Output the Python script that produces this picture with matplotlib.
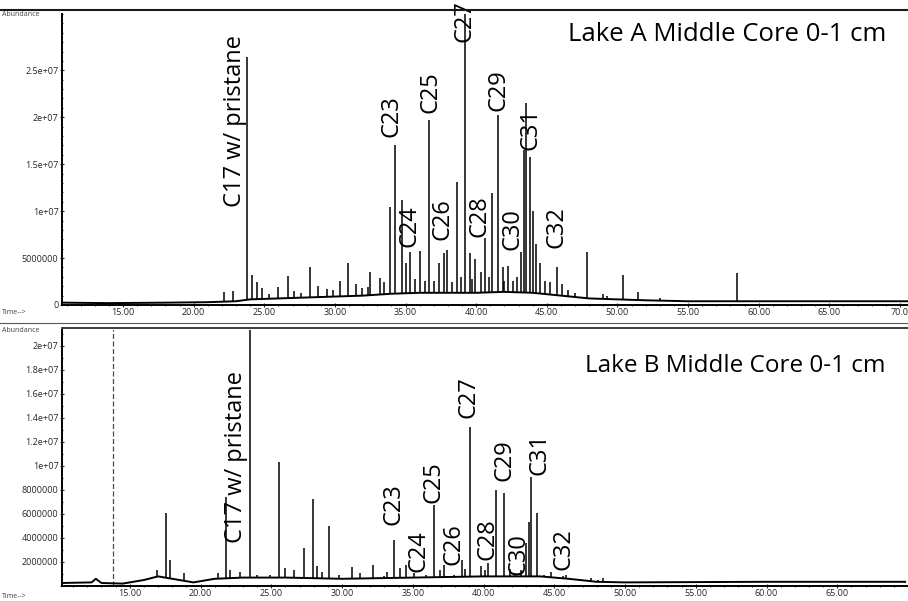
import numpy as np
import matplotlib
matplotlib.use('Agg')
import matplotlib.pyplot as plt
from matplotlib.lines import Line2D
from matplotlib.ticker import MultipleLocator

plt.rcParams['font.family'] = ['Open Sans', 'DejaVu Sans']

# ---- Lake A (top trace) ----
a_base_t = [10.7, 14, 18, 21, 23, 24, 26, 28, 30, 32, 34, 36, 38, 40, 42, 44, 46, 48, 50, 52, 55, 60, 65, 70.6]
a_base_v = [0.25e6, 0.2e6, 0.25e6, 0.3e6, 0.4e6, 0.6e6, 0.7e6, 0.8e6, 0.9e6, 1.0e6, 1.2e6, 1.3e6,
            1.3e6, 1.3e6, 1.4e6, 1.3e6, 1.0e6, 0.7e6, 0.6e6, 0.5e6, 0.4e6, 0.4e6, 0.4e6, 0.4e6]
a_peak_t = [22.15, 22.78, 23.78, 24.13, 24.5, 24.84, 25.97, 26.68, 28.23, 29.44, 30.36, 30.92,
            32.34, 32.48, 33.19, 33.9, 34.25, 34.75, 35.03, 35.31, 36.02, 36.37, 36.66, 37.36,
            37.72, 37.93, 38.28, 38.64, 38.92, 39.2, 39.56, 39.91, 40.34, 40.62, 41.12, 41.54,
            41.9, 42.25, 42.6, 42.9, 43.17, 43.38, 43.52, 43.8, 44.02, 44.23, 44.51, 44.87,
            45.71, 46.07, 46.99, 47.84, 48.97, 49.25, 50.39, 51.45, 53.0, 58.45,
            25.3, 27.1, 27.6, 28.8, 29.9, 31.5, 31.9, 33.5, 35.7, 37.0, 39.7, 40.9, 42.0, 45.2, 46.5]
a_peak_v = [1.4e6, 1.5e6, 2.64e7, 3.2e6, 2.5e6, 1.8e6, 1.9e6, 3.1e6, 4.0e6, 1.7e6, 2.6e6, 4.5e6,
            1.9e6, 3.5e6, 2.9e6, 1.04e7, 1.70e7, 1.12e7, 4.5e6, 5.6e6, 5.8e6, 2.6e6, 1.97e7, 4.5e6,
            5.5e6, 5.9e6, 2.5e6, 1.31e7, 3.0e6, 3.1e7, 5.5e6, 4.9e6, 3.5e6, 7.1e6, 1.19e7, 2.02e7,
            4.0e6, 4.2e6, 2.6e6, 3.0e6, 5.6e6, 1.65e7, 2.15e7, 1.58e7, 1.0e7, 6.5e6, 4.5e6, 2.6e6,
            4.0e6, 2.2e6, 1.3e6, 5.6e6, 1.2e6, 1.0e6, 3.2e6, 1.4e6, 0.7e6, 3.4e6,
            1.2e6, 1.5e6, 1.3e6, 2.0e6, 1.6e6, 2.2e6, 1.8e6, 2.4e6, 2.8e6, 2.6e6, 2.8e6, 3.0e6, 2.6e6, 2.4e6, 1.6e6]
a_labels = ['C17 w/ pristane', 'C23', 'C24', 'C25', 'C26', 'C27', 'C28', 'C29', 'C30', 'C31', 'C32']
a_label_t = [22.93, 34.04, 35.31, 36.8, 37.65, 39.2, 40.27, 41.6, 42.6, 43.88, 45.71]
a_label_v = [1.04e7, 1.79e7, 6.2e6, 2.05e7, 6.9e6, 2.8e7, 7.2e6, 2.07e7, 5.85e6, 1.65e7, 6.06e6]
a_yticks = [0, 5e6, 1e7, 1.5e7, 2e7, 2.5e7]
a_yticklabels = ['0', '5000000', '1e+07', '1.5e+07', '2e+07', '2.5e+07']
a_xticklabels = ['15.00', '20.00', '25.00', '30.00', '35.00', '40.00', '45.00',
                 '50.00', '55.00', '60.00', '65.00', '70.0']

# ---- Lake B (bottom trace) ----
b_base_t = [10.2, 12.3, 12.6, 13.0, 14.5, 16, 17, 18, 19.5, 21, 23, 26, 30, 35, 40, 44, 46, 48, 50, 60, 69.8]
b_base_v = [0.25e6, 0.3e6, 0.6e6, 0.25e6, 0.2e6, 0.5e6, 0.8e6, 0.6e6, 0.3e6, 0.6e6, 0.7e6, 0.7e6,
            0.6e6, 0.7e6, 0.8e6, 0.8e6, 0.6e6, 0.35e6, 0.3e6, 0.35e6, 0.35e6]
b_solvent_t = 13.8
b_solvent_v = 2.6e7
b_peak_t = [12.54, 16.9, 17.54, 17.82, 18.8, 21.83, 22.1, 23.52, 24.0, 24.9, 25.56, 26.0,
            27.32, 27.96, 28.2, 29.08, 29.8, 30.7, 32.18, 32.96, 33.66, 34.08, 34.51, 35.07,
            35.92, 36.48, 37.18, 37.89, 38.45, 39.01, 39.3, 39.79, 40.35, 40.85, 41.48, 42.25,
            42.68, 43.03, 43.24, 43.38, 43.8, 44.3, 45.63, 45.85, 47.6, 48.1, 48.45,
            21.2, 22.8, 26.6, 28.6, 31.3, 33.2, 36.9, 38.7, 40.1, 41.9, 44.8]
b_peak_v = [0.5e6, 1.33e6, 6.1e6, 2.2e6, 1.1e6, 7.4e6, 1.3e6, 2.6e7, 0.9e6, 0.9e6, 1.03e7, 1.5e6,
            3.2e6, 7.2e6, 1.7e6, 5.0e6, 0.9e6, 1.6e6, 1.75e6, 0.83e6, 3.8e6, 1.5e6, 1.75e6, 1.1e6,
            0.9e6, 6.75e6, 1.75e6, 0.9e6, 2.2e6, 1.32e7, 0.8e6, 1.7e6, 1.9e6, 8.0e6, 7.75e6, 1.1e6,
            1.3e6, 3.6e6, 5.3e6, 9.1e6, 6.1e6, 0.9e6, 0.8e6, 0.9e6, 0.7e6, 0.5e6, 0.7e6,
            1.1e6, 1.2e6, 1.3e6, 1.2e6, 1.1e6, 1.2e6, 1.3e6, 1.4e6, 1.3e6, 1.4e6, 1.2e6]
b_labels = ['C17 w/ pristane', 'C23', 'C24', 'C25', 'C26', 'C27', 'C28', 'C29', 'C30', 'C31', 'C32']
b_label_t = [22.54, 33.66, 35.42, 36.48, 37.89, 38.94, 40.28, 41.48, 42.46, 43.94, 45.63]
b_label_v = [3.6e6, 5.1e6, 1.17e6, 6.9e6, 1.75e6, 1.4e7, 2.17e6, 8.7e6, 0.9e6, 9.25e6, 1.33e6]
b_yticks = [0, 2e6, 4e6, 6e6, 8e6, 1e7, 1.2e7, 1.4e7, 1.6e7, 1.8e7, 2e7]
b_yticklabels = ['', '2000000', '4000000', '6000000', '8000000', '1e+07',
                 '1.2e+07', '1.4e+07', '1.6e+07', '1.8e+07', '2e+07']
b_xticklabels = ['15.00', '20.00', '25.00', '30.00', '35.00', '40.00', '45.00',
                 '50.00', '55.00', '60.00', '65.00', '']

xticks = [15, 20, 25, 30, 35, 40, 45, 50, 55, 60, 65, 70]


def draw_trace(ax, base_t, base_v, peak_t, peak_v):
    ax.plot(base_t, base_v, color='black', lw=1.4)
    floor = np.interp(peak_t, base_t, base_v)
    ax.vlines(peak_t, floor, peak_v, color='black', lw=1.1)


def style_axis(ax, yticks, yticklabels, xticklabels, xlim, ylim):
    ax.set_xlim(*xlim)
    ax.set_ylim(*ylim)
    for s in ['top', 'right']:
        ax.spines[s].set_visible(False)
    ax.spines['left'].set_linewidth(1.4)
    ax.spines['bottom'].set_linewidth(1.4)
    ax.set_yticks(yticks)
    ax.set_yticklabels(yticklabels)
    ax.yaxis.set_minor_locator(MultipleLocator(1e6))
    ax.set_xticks(xticks)
    ax.set_xticklabels(xticklabels)
    ax.xaxis.set_minor_locator(MultipleLocator(1))
    ax.tick_params(axis='both', which='major', labelsize=6.5, length=3, width=0.8,
                   colors='0.15', direction='inout')
    ax.tick_params(axis='both', which='minor', length=2, width=0.6, direction='inout')
    ax.tick_params(axis='x', pad=1)
    ax.tick_params(axis='y', pad=1)


def label_peaks(ax, names, ts, vs):
    for name, t, v in zip(names, ts, vs):
        ax.text(t, v, name, rotation=90, ha='center', va='bottom',
                fontsize=17, color='black', clip_on=False)


fig = plt.figure(figsize=(9.08, 6.01), dpi=100)

ax1 = fig.add_axes([62 / 908, 1 - 305 / 601, 1 - 62 / 908, (305 - 14) / 601])
draw_trace(ax1, a_base_t, a_base_v, a_peak_t, a_peak_v)
style_axis(ax1, a_yticks, a_yticklabels, a_xticklabels, (10.68, 70.57), (0, 3.1e7))
label_peaks(ax1, a_labels, a_label_t, a_label_v)
ax1.text(0.975, 0.93, 'Lake A Middle Core 0-1 cm', transform=ax1.transAxes,
         ha='right', va='center', fontsize=18.5)

ax2 = fig.add_axes([62 / 908, 1 - 586 / 601, 1 - 62 / 908, (586 - 330) / 601])
ax2.vlines(b_solvent_t, 0, b_solvent_v, color='0.3', lw=0.9, linestyles=(0, (4, 2)))
draw_trace(ax2, b_base_t, b_base_v, b_peak_t, b_peak_v)
style_axis(ax2, b_yticks, b_yticklabels, b_xticklabels, (10.21, 69.79), (0, 2.13e7))
label_peaks(ax2, b_labels, b_label_t, b_label_v)
ax2.text(0.973, 0.86, 'Lake B Middle Core 0-1 cm', transform=ax2.transAxes,
         ha='right', va='center', fontsize=17.5)

# frame lines and instrument captions
fig.add_artist(Line2D([0, 1], [1 - 10 / 601, 1 - 10 / 601], color='0.1', lw=1.5))
fig.add_artist(Line2D([0, 1], [1 - 323 / 601, 1 - 323 / 601], color='0.35', lw=0.8))
fig.add_artist(Line2D([62 / 908, 1], [1 - 328 / 601, 1 - 328 / 601], color='0.1', lw=1.2))
for y_px, txt in [(15, 'Abundance'), (313, 'Time-->'), (331, 'Abundance'), (597, 'Time-->')]:
    fig.text(2 / 908, 1 - y_px / 601, txt, fontsize=5, color='0.25', ha='left', va='center')

fig.savefig('out.png', dpi=100)
